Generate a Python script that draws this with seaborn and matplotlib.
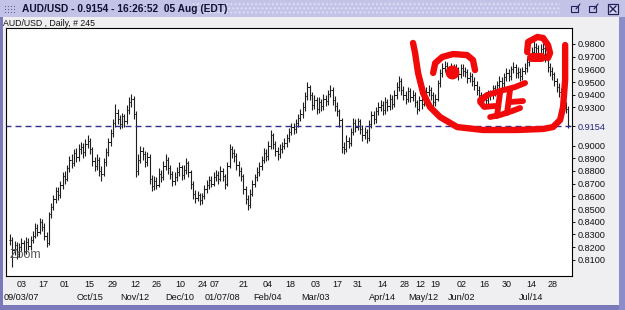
import numpy as np
import matplotlib
matplotlib.use("Agg")
import matplotlib.pyplot as plt
import seaborn as sns
from matplotlib.patches import Rectangle
from matplotlib.transforms import blended_transform_factory

# ---------------- data ----------------
closes = [
    0.826, 0.818, 0.822, 0.815, 0.820, 0.823, 0.817, 0.824, 0.821, 0.826,
    0.829, 0.835, 0.832, 0.840, 0.836, 0.829, 0.823, 0.846, 0.852, 0.858,
    0.864, 0.861, 0.869, 0.876, 0.874, 0.882, 0.889, 0.886, 0.894, 0.891,
    0.897, 0.899, 0.895, 0.901, 0.904, 0.897, 0.888, 0.884, 0.889, 0.880,
    0.878, 0.887, 0.895, 0.903, 0.910, 0.918, 0.926, 0.921, 0.917, 0.923,
    0.919, 0.928, 0.934, 0.937, 0.925, 0.880, 0.889, 0.896, 0.893, 0.887,
    0.891, 0.874, 0.868, 0.872, 0.869, 0.878, 0.875, 0.884, 0.889, 0.882,
    0.878, 0.872, 0.875, 0.879, 0.883, 0.877, 0.881, 0.886, 0.879, 0.870,
    0.862, 0.859, 0.861, 0.857, 0.860, 0.866, 0.869, 0.873, 0.870, 0.875,
    0.877, 0.874, 0.880, 0.876, 0.870, 0.884, 0.897, 0.894, 0.892, 0.885,
    0.880, 0.876, 0.866, 0.858, 0.853, 0.862, 0.870, 0.875, 0.879, 0.884,
    0.889, 0.894, 0.892, 0.900, 0.908, 0.901, 0.896, 0.893, 0.897, 0.900,
    0.902, 0.906, 0.911, 0.915, 0.913, 0.918, 0.922, 0.925, 0.930, 0.939,
    0.946, 0.940, 0.932, 0.936, 0.929, 0.934, 0.931, 0.937, 0.935, 0.941,
    0.944, 0.936, 0.931, 0.927, 0.920, 0.899, 0.897, 0.904, 0.902, 0.911,
    0.918, 0.915, 0.919, 0.913, 0.908, 0.911, 0.906, 0.917, 0.924, 0.921,
    0.927, 0.930, 0.932, 0.928, 0.934, 0.931, 0.937, 0.933, 0.940, 0.946,
    0.951, 0.944, 0.940, 0.937, 0.943, 0.938, 0.940, 0.934, 0.929, 0.936,
    0.933, 0.939, 0.942, 0.944, 0.940, 0.934, 0.937, 0.949, 0.957, 0.961,
    0.963, 0.960, 0.957, 0.962, 0.958, 0.960, 0.956, 0.961, 0.959, 0.958,
    0.953, 0.955, 0.951, 0.948, 0.944, 0.940, 0.935, 0.938, 0.936, 0.941,
    0.940, 0.945, 0.943, 0.948, 0.951, 0.949, 0.954, 0.957, 0.955, 0.960,
    0.962, 0.957, 0.958, 0.955, 0.959, 0.961, 0.966, 0.970, 0.974, 0.978,
    0.977, 0.973, 0.976, 0.977, 0.970, 0.962, 0.959, 0.956, 0.951, 0.946,
    0.942, 0.938, 0.931, 0.929, 0.916,
]
highs = [
    0.830, 0.828, 0.825, 0.824, 0.823, 0.827, 0.826, 0.828, 0.827, 0.829,
    0.833, 0.839, 0.838, 0.843, 0.842, 0.839, 0.832, 0.848, 0.855, 0.861,
    0.867, 0.867, 0.872, 0.879, 0.880, 0.885, 0.892, 0.893, 0.897, 0.898,
    0.901, 0.903, 0.902, 0.905, 0.908, 0.906, 0.899, 0.891, 0.893, 0.891,
    0.884, 0.890, 0.898, 0.906, 0.913, 0.921, 0.933, 0.929, 0.924, 0.926,
    0.925, 0.932, 0.938, 0.941, 0.939, 0.927, 0.893, 0.900, 0.899, 0.896,
    0.895, 0.893, 0.877, 0.876, 0.875, 0.882, 0.881, 0.888, 0.893, 0.891,
    0.885, 0.880, 0.879, 0.883, 0.887, 0.885, 0.885, 0.890, 0.888, 0.881,
    0.872, 0.865, 0.864, 0.863, 0.863, 0.869, 0.873, 0.876, 0.876, 0.879,
    0.881, 0.880, 0.884, 0.882, 0.878, 0.887, 0.901, 0.900, 0.897, 0.894,
    0.888, 0.883, 0.878, 0.868, 0.861, 0.866, 0.873, 0.878, 0.883, 0.887,
    0.892, 0.898, 0.897, 0.904, 0.912, 0.910, 0.904, 0.899, 0.901, 0.903,
    0.906, 0.909, 0.914, 0.918, 0.918, 0.921, 0.925, 0.929, 0.934, 0.942,
    0.950, 0.948, 0.942, 0.940, 0.938, 0.938, 0.937, 0.941, 0.940, 0.944,
    0.948, 0.946, 0.939, 0.934, 0.929, 0.922, 0.903, 0.908, 0.907, 0.914,
    0.922, 0.921, 0.922, 0.921, 0.916, 0.915, 0.913, 0.920, 0.927, 0.927,
    0.930, 0.934, 0.936, 0.935, 0.938, 0.937, 0.941, 0.940, 0.944, 0.950,
    0.955, 0.953, 0.947, 0.943, 0.946, 0.945, 0.944, 0.942, 0.936, 0.939,
    0.939, 0.942, 0.946, 0.948, 0.946, 0.942, 0.941, 0.952, 0.960, 0.965,
    0.967, 0.966, 0.963, 0.965, 0.964, 0.964, 0.962, 0.964, 0.964, 0.962,
    0.960, 0.958, 0.957, 0.954, 0.951, 0.947, 0.942, 0.941, 0.941, 0.944,
    0.944, 0.948, 0.948, 0.951, 0.955, 0.954, 0.957, 0.961, 0.960, 0.963,
    0.966, 0.964, 0.962, 0.961, 0.962, 0.965, 0.969, 0.974, 0.978, 0.982,
    0.981, 0.979, 0.980, 0.981, 0.979, 0.972, 0.965, 0.962, 0.958, 0.953,
    0.949, 0.945, 0.940, 0.934, 0.931,
]
lows = [
    0.822, 0.804, 0.814, 0.811, 0.812, 0.817, 0.814, 0.815, 0.818, 0.818,
    0.823, 0.827, 0.829, 0.830, 0.833, 0.826, 0.820, 0.822, 0.843, 0.849,
    0.855, 0.857, 0.859, 0.866, 0.870, 0.872, 0.879, 0.882, 0.884, 0.887,
    0.888, 0.893, 0.890, 0.892, 0.898, 0.893, 0.884, 0.880, 0.881, 0.876,
    0.872, 0.876, 0.884, 0.892, 0.900, 0.907, 0.915, 0.917, 0.913, 0.914,
    0.915, 0.917, 0.925, 0.930, 0.921, 0.875, 0.877, 0.886, 0.889, 0.883,
    0.884, 0.870, 0.864, 0.865, 0.866, 0.867, 0.871, 0.873, 0.881, 0.878,
    0.874, 0.868, 0.869, 0.872, 0.876, 0.873, 0.874, 0.878, 0.875, 0.866,
    0.858, 0.855, 0.856, 0.853, 0.854, 0.858, 0.863, 0.866, 0.867, 0.868,
    0.872, 0.870, 0.872, 0.872, 0.866, 0.868, 0.882, 0.890, 0.887, 0.881,
    0.876, 0.872, 0.862, 0.854, 0.849, 0.851, 0.860, 0.867, 0.872, 0.876,
    0.881, 0.886, 0.888, 0.889, 0.897, 0.897, 0.892, 0.889, 0.890, 0.894,
    0.897, 0.899, 0.903, 0.908, 0.909, 0.910, 0.915, 0.919, 0.922, 0.927,
    0.936, 0.936, 0.928, 0.929, 0.925, 0.926, 0.927, 0.928, 0.931, 0.932,
    0.938, 0.932, 0.927, 0.923, 0.915, 0.894, 0.893, 0.895, 0.898, 0.900,
    0.908, 0.911, 0.912, 0.909, 0.904, 0.905, 0.902, 0.904, 0.914, 0.917,
    0.918, 0.924, 0.927, 0.924, 0.925, 0.927, 0.928, 0.929, 0.930, 0.937,
    0.943, 0.940, 0.936, 0.933, 0.934, 0.934, 0.935, 0.930, 0.925, 0.927,
    0.929, 0.931, 0.936, 0.939, 0.936, 0.930, 0.931, 0.935, 0.946, 0.954,
    0.958, 0.956, 0.953, 0.954, 0.954, 0.955, 0.952, 0.953, 0.955, 0.954,
    0.949, 0.950, 0.947, 0.944, 0.940, 0.936, 0.931, 0.932, 0.932, 0.933,
    0.936, 0.937, 0.939, 0.940, 0.945, 0.945, 0.946, 0.951, 0.951, 0.952,
    0.957, 0.953, 0.953, 0.951, 0.952, 0.956, 0.958, 0.963, 0.967, 0.971,
    0.973, 0.969, 0.970, 0.972, 0.966, 0.958, 0.955, 0.952, 0.947, 0.942,
    0.938, 0.934, 0.927, 0.926, 0.914,
]
last_price = 0.9154

day_tick_labels = ["03", "17", "01", "15", "29", "12", "26", "10", "24", "07",
                   "21", "04", "18", "03", "17", "31", "14", "28", "12", "19",
                   "02", "16", "30", "14", "28"]
day_tick_bars = [5, 14.4, 24, 34.5, 45, 54.7, 64.3, 74.3, 84.2, 89.4,
                 102.3, 112.8, 122.4, 133.4, 143, 152.2, 162.7, 172.7, 179.5, 186.0,
                 197.6, 207.3, 217.3, 227.8, 237.4]
month_labels = ["09/03/07", "Oct/15", "Nov/12", "Dec/10", "01/07/08", "Feb/04",
                "Mar/03", "Apr/14", "May/12", "Jun/02", "Jul/14"]
month_label_bars = [5, 34.8, 54.7, 74.3, 92.7, 112.4, 133.4, 162.7, 180.6, 197.6, 227.8]

price_ticks = [0.98, 0.97, 0.96, 0.95, 0.94, 0.93, 0.90, 0.89, 0.88, 0.87,
               0.86, 0.85, 0.84, 0.83, 0.82, 0.81]

title_text = "AUD/USD - 0.9154 - 16:26:52  05 Aug (EDT)"
subtitle_text = "AUD/USD , Daily, # 245"

# hand-drawn red annotation strokes, in (bar, price) coordinates
stroke_u = [(176.2, 0.9808), (177.1, 0.9729), (178.4, 0.9572), (180.6, 0.9414),
            (183.6, 0.9304), (188.0, 0.9225), (195.5, 0.9146), (206.8, 0.9123),
            (221.7, 0.9123), (233.1, 0.9131), (237.4, 0.9146), (240.5, 0.9202),
            (241.8, 0.9304), (242.7, 0.9517), (242.7, 0.9792)]
stroke_left_arc = [(185.0, 0.9572), (185.9, 0.9650), (189.0, 0.9698), (193.7, 0.9721),
                   (199.8, 0.9713), (202.4, 0.9674), (203.3, 0.9595)]
stroke_right_arc = [(226.1, 0.9737), (226.5, 0.9816), (230.5, 0.9855), (233.1, 0.9847),
                    (235.2, 0.9792), (236.1, 0.9729), (235.2, 0.9690)]
stroke_blob = [(227.8, 0.9698), (232.2, 0.9698)]
stroke_ii = [
    [(205.5, 0.9359), (208.6, 0.9398), (214.3, 0.9430), (220.8, 0.9461), (225.2, 0.9493)],
    [(208.6, 0.9398), (205.5, 0.9343), (207.3, 0.9304), (212.1, 0.9312)],
    [(214.3, 0.9422), (212.9, 0.9233)],
    [(218.6, 0.9438), (217.3, 0.9257)],
    [(209.9, 0.9225), (214.3, 0.9241), (219.5, 0.9272), (223.0, 0.9296)],
    [(218.6, 0.9343), (224.3, 0.9351)],
]
dot_center = (193.3, 0.9580)

assert len(closes) == len(highs) == len(lows) == 245

# ---------------- styling ----------------
sns.set_theme(style="white")
plt.rcParams['font.family'] = ['Liberation Sans', 'DejaVu Sans']

W, H = 625, 310
fig = plt.figure(figsize=(W / 100, H / 100), dpi=100)
fig.patch.set_facecolor('#efeff2')


def fx(px):
    return px / W


def fy(py):
    return 1 - py / H


# window chrome
fig.patches.append(Rectangle((0, fy(17)), 1, 17 / H, transform=fig.transFigure,
                             facecolor='#c3c3e8', edgecolor='none', zorder=0))
fig.patches.append(Rectangle((fx(190), fy(15)), fx(560) - fx(190), 13 / H,
                             transform=fig.transFigure, facecolor='#c3c3e8',
                             edgecolor='#dedef6', hatch='....', lw=0, zorder=0))
fig.patches.append(Rectangle((0, 0), 3 / W, fy(17), transform=fig.transFigure,
                             facecolor='#7a7abb', edgecolor='none', zorder=0))
fig.patches.append(Rectangle((0, 0), 1, 5 / H, transform=fig.transFigure,
                             facecolor='#7a7abb', edgecolor='none', zorder=0))
fig.patches.append(Rectangle((fx(619), 0), 6 / W, fy(17), transform=fig.transFigure,
                             facecolor='#8c8cc8', edgecolor='none', zorder=0))
# title-bar icons
for cx in (575, 593):
    fig.patches.append(Rectangle((fx(cx - 4), fy(12)), 7 / W, 6 / H, transform=fig.transFigure,
                                 facecolor='none', edgecolor='#20205a', lw=0.8, zorder=1))
    fig.add_artist(plt.Line2D([fx(cx + 1), fx(cx + 5)], [fy(9), fy(4)],
                              transform=fig.transFigure, color='#20205a', lw=0.8))
fig.patches.append(Rectangle((fx(608), fy(14)), 10 / W, 10 / H, transform=fig.transFigure,
                             facecolor='#d8d8f0', edgecolor='#20205a', lw=0.9, zorder=1))
fig.add_artist(plt.Line2D([fx(610), fx(616)], [fy(12), fy(6)], transform=fig.transFigure,
                          color='#20205a', lw=1.0))
fig.add_artist(plt.Line2D([fx(610), fx(616)], [fy(6), fy(12)], transform=fig.transFigure,
                          color='#20205a', lw=1.0))
for gx in (5, 8, 11, 14):
    for gy in (6, 9, 12):
        fig.patches.append(Rectangle((fx(gx), fy(gy + 1)), 1.2 / W, 1.2 / H,
                                     transform=fig.transFigure, facecolor='#5a5a90',
                                     edgecolor='none', zorder=1))

fig.text(fx(22), fy(8.5), title_text, fontsize=7.3, fontweight='bold',
         color='#101030', va='center', ha='left')
fig.text(fx(3), fy(23), subtitle_text, fontsize=6.3, color='#111111',
         va='center', ha='left')

# ---------------- main axes ----------------
left_px, right_px, top_px, bot_px = 6, 572, 28, 276
ax = fig.add_axes([fx(left_px), fy(bot_px), (right_px - left_px) / W, (bot_px - top_px) / H])
ax.set_facecolor('white')

idx = np.arange(len(closes))
opens = [closes[0]] + closes[:-1]
bar_color = '#1e1e1e'
ax.vlines(idx, lows, highs, color=bar_color, lw=0.8)
ax.hlines(opens, idx - 0.55, idx, color=bar_color, lw=0.7)
ax.hlines(closes, idx, idx + 0.55, color=bar_color, lw=0.7)

sns.lineplot(x=[-2, 250], y=[last_price, last_price], ax=ax, color='#30308e',
             lw=1.0, dashes=(4.3, 2.9), legend=False)

ax.set_xlim(-1.75, 245.7)
ax.set_ylim(0.7973, 0.9926)

# red annotations
red = '#f00a0a'
rlw = 4.6


def draw_stroke(pts, lw=rlw):
    xs, ys = zip(*pts)
    ax.plot(xs, ys, color=red, lw=lw, solid_capstyle='round', solid_joinstyle='round',
            zorder=5, clip_on=False)


draw_stroke(stroke_u)
draw_stroke(stroke_left_arc)
draw_stroke(stroke_right_arc)
draw_stroke(stroke_blob, lw=6.5)
for s in stroke_ii:
    draw_stroke(s, lw=4.2)
ax.scatter([dot_center[0]], [dot_center[1]], s=100, color=red, zorder=6, linewidths=0)

fig.text(fx(10), fy(255), "Zoom", fontsize=9, color='#585858', va='center', ha='left')

# axes ticks
for s in ax.spines.values():
    s.set_color('black')
    s.set_linewidth(0.8)
ax.yaxis.tick_right()
ax.set_yticks(price_ticks + [last_price])
ax.set_yticklabels([f"{v:.4f}" for v in price_ticks] + [f"{last_price:.4f}"])
ax.tick_params(axis='y', which='both', right=True, left=False, length=2.5, width=0.7,
               pad=1.2, labelsize=6.6, colors='#111111')
ax.get_yticklabels()[-1].set_color('#23237e')
ax.get_yticklines()[-1].set_color('#23237e')

ax.set_xticks(day_tick_bars)
ax.set_xticklabels(day_tick_labels)
ax.tick_params(axis='x', bottom=True, length=0, pad=3.2, labelsize=6.5, colors='#111111')
trans = blended_transform_factory(ax.transData, ax.transAxes)
row2_y = -(297 - bot_px) / (bot_px - top_px)
for xb, lab in zip(month_label_bars, month_labels):
    ax.text(xb, row2_y, lab, transform=trans, ha='center', va='center',
            fontsize=6.6, color='#111111')
ax.grid(False)

fig.savefig("out.png", dpi=100, facecolor=fig.get_facecolor())
